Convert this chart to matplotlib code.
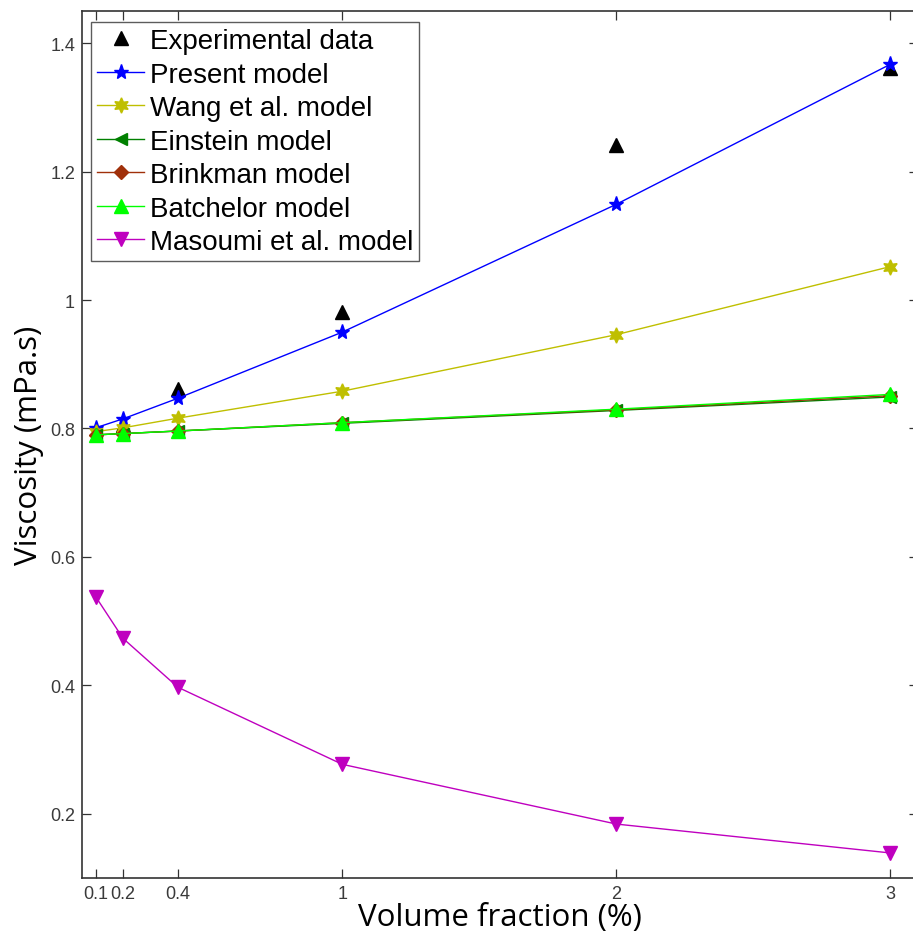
import matplotlib
matplotlib.use("Agg")
import matplotlib.pyplot as plt

x_exp = [0.2, 0.4, 1, 2, 3]
y_exp = [0.805, 0.862, 0.982, 1.241, 1.362]

x_mod = [0.1, 0.2, 0.4, 1, 2, 3]
present = [0.801, 0.815, 0.847, 0.950, 1.149, 1.367]
wang = [0.795, 0.801, 0.816, 0.858, 0.946, 1.052]
einstein = [0.790, 0.792, 0.796, 0.808, 0.828, 0.849]
brinkman = [0.790, 0.792, 0.796, 0.809, 0.829, 0.851]
batchelor = [0.790, 0.792, 0.796, 0.809, 0.830, 0.853]
masoumi = [0.538, 0.473, 0.397, 0.277, 0.184, 0.139]

xticks = [0.1, 0.2, 0.4, 1, 2, 3]
xticklabels = ["0.1", "0.2", "0.4", "1", "2", "3"]
yticks = [0.2, 0.4, 0.6, 0.8, 1.0, 1.2, 1.4]
yticklabels = ["0.2", "0.4", "0.6", "0.8", "1", "1.2", "1.4"]

W, H = 913, 937
fig = plt.figure(figsize=(W / 100, H / 100), dpi=100)
ax = fig.add_axes([82 / W, 58 / H, 835.7 / W, 867 / H])

lw = 1.0
ax.plot(x_exp, y_exp, linestyle="none", marker="^", color="black", markersize=10, label="Experimental data")
ax.plot(x_mod, present, color="#0000ff", lw=lw, marker="*", markersize=11, label="Present model")
ax.plot(x_mod, wang, color="#bfbf00", lw=lw, marker=(6, 1, 0), markersize=11, label="Wang et al. model")
ax.plot(x_mod, einstein, color="#008000", lw=lw, marker="<", markersize=9, label="Einstein model")
ax.plot(x_mod, brinkman, color="#a0300a", lw=lw, marker="D", markersize=7, label="Brinkman model")
ax.plot(x_mod, batchelor, color="#00ff00", lw=lw, marker="^", markersize=10, label="Batchelor model")
ax.plot(x_mod, masoumi, color="#bf00bf", lw=lw, marker="v", markersize=10, label="Masoumi et al. model")

ax.set_xlim(0.05, 3.1)
ax.set_ylim(0.1, 1.45)
ax.set_xticks(xticks)
ax.set_xticklabels(xticklabels)
ax.set_yticks(yticks)
ax.set_yticklabels(yticklabels)
ax.tick_params(direction="in", length=6.5, width=0.9, top=True, right=True,
               labelsize=13, labelcolor="#3a3a3a", color="#333333", pad=5)
for lab in ax.get_xticklabels() + ax.get_yticklabels():
    lab.set_family("Liberation Sans")
for s in ax.spines.values():
    s.set_linewidth(1.2)
    s.set_color("#333333")

ax.set_xlabel("Volume fraction (%)", fontsize=22.5, family="Open Sans", labelpad=0)
ax.set_ylabel("Viscosity (mPa.s)", fontsize=22.5, family="Open Sans", labelpad=4)

leg = ax.legend(loc="upper left", bbox_to_anchor=(91 / W, 1 - 23 / H), bbox_transform=fig.transFigure,
                prop={"family": "Liberation Sans", "size": 20}, frameon=True, fancybox=False,
                edgecolor="#333333", borderpad=0.22, labelspacing=0.27, handlelength=1.7,
                handletextpad=0.2, borderaxespad=0)
leg.get_frame().set_linewidth(1.0)

fig.savefig("out.png", dpi=100, facecolor="white")
